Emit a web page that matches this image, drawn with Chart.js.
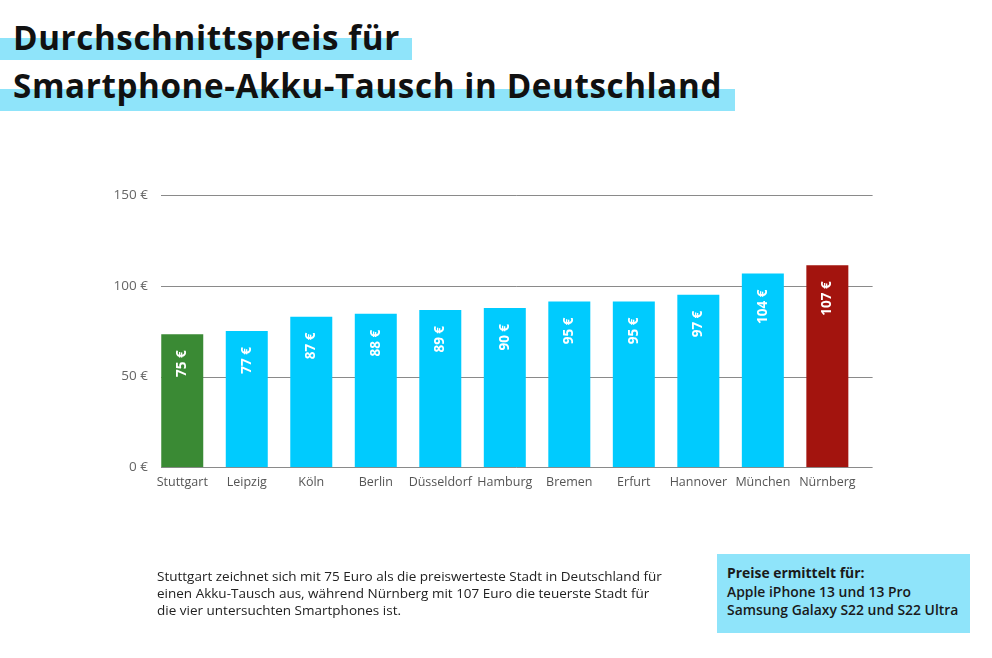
<!DOCTYPE html>
<html>
<head>
<meta charset="utf-8">
<script src="https://cdn.jsdelivr.net/npm/chart.js@4"></script>
<style>
  body { margin: 0; width: 992px; height: 658px; background: #fff; position: relative; overflow: hidden; font-family: "Open Sans", sans-serif; }
  #chart { position: absolute; left: 0; top: 0; }
  .hl { position: absolute; left: 0; background: #8fe4fa; }
  .title { position: absolute; left: 13px; font-weight: 700; font-size: 33.2px; letter-spacing: 0.6px; color: #111; white-space: nowrap; line-height: 1; }
  .note { position: absolute; left: 157px; top: 568px; font-size: 13.5px; line-height: 17px; color: #222; white-space: nowrap; }
  .box { position: absolute; left: 717px; top: 554px; width: 253px; height: 79px; background: #8fe4fa; }
  .box div { position: absolute; left: 10px; top: 10px; font-size: 13.9px; line-height: 18.5px; color: #1a1a1a; font-weight: 600; white-space: nowrap; }
</style>
</head>
<body>
<div class="hl" style="top:38px;width:412px;height:22px"></div>
<div class="hl" style="top:89px;width:735px;height:22px"></div>
<div class="title" style="top:20.5px">Durchschnittspreis für</div>
<div class="title" style="top:69px">Smartphone-Akku-Tausch in Deutschland</div>
<canvas id="chart" width="992" height="658"></canvas>
<div class="note">Stuttgart zeichnet sich mit 75 Euro als die preiswerteste Stadt in Deutschland für<br>einen Akku-Tausch aus, während Nürnberg mit 107 Euro die teuerste Stadt für<br>die vier untersuchten Smartphones ist.</div>
<div class="box"><div><b style="font-weight:700">Preise ermittelt für:</b><br>Apple iPhone 13 und 13 Pro<br>Samsung Galaxy S22 und S22 Ultra</div></div>
<script>
// cities, bar heights as drawn, and the printed price labels
const cities = ["Stuttgart", "Leipzig", "Köln", "Berlin", "Düsseldorf", "Hamburg", "Bremen", "Erfurt", "Hannover", "München", "Nürnberg"];
const barHeights = [73.3, 75.1, 83, 84.6, 86.7, 87.8, 91.3, 91.3, 95.1, 106.7, 111.3];
const priceLabels = [75, 77, 87, 88, 89, 90, 95, 95, 97, 104, 107];
const yTicks = [0, 50, 100, 150];

const blue = "#00cbfe", green = "#3a8a34", red = "#a3140e";
const barColors = cities.map((c, i) => i == 0 ? green : (i == cities.length - 1 ? red : blue));

// y grid lines run a bit right of the bars, like in the original layout
const gridPlugin = {
    id: "gridLines",
    beforeDatasetsDraw: function (chart) {
        const ctx = chart.ctx, area = chart.chartArea, y = chart.scales.y;
        ctx.save();
        ctx.strokeStyle = "#8a8a8a";
        ctx.lineWidth = 1;
        yTicks.forEach(function (t) {
            const py = Math.round(y.getPixelForValue(t)) + 0.5;
            ctx.beginPath();
            ctx.moveTo(area.left + 11, py);
            ctx.lineTo(area.right + 13, py);
            ctx.stroke();
        });
        ctx.restore();
    }
};

const valuePlugin = {
    id: "valueLabels",
    afterDatasetsDraw: function (chart) {
        const ctx = chart.ctx;
        const bars = chart.getDatasetMeta(0).data;
        ctx.save();
        ctx.fillStyle = "#fff";
        ctx.font = "bold 13.5px 'Open Sans'";
        ctx.textAlign = "right";
        ctx.textBaseline = "middle";
        bars.forEach(function (bar, i) {
            ctx.save();
            ctx.translate(bar.x, bar.y + 16);
            ctx.rotate(-Math.PI / 2);
            ctx.fillText(priceLabels[i] + " €", 0, 0);
            ctx.restore();
        });
        ctx.restore();
    }
};

new Chart(document.getElementById("chart"), {
    type: "bar",
    data: {
        labels: cities,
        datasets: [{
            data: barHeights,
            backgroundColor: barColors,
            barPercentage: 0.651,
            categoryPercentage: 1
        }]
    },
    options: {
        responsive: false,
        animation: false,
        layout: { padding: { left: 0, right: 132.4, top: 195, bottom: 160.7 } },
        plugins: { legend: { display: false }, tooltip: { enabled: false } },
        scales: {
            x: {
                grid: { display: false, drawTicks: false },
                border: { display: false },
                ticks: { padding: 8, color: "#555", font: { family: "Open Sans", size: 12.5 }, maxRotation: 0, autoSkip: false },
                afterFit: function (scale) { scale.height = 30; }
            },
            y: {
                min: 0,
                max: 150,
                grid: { display: false, drawTicks: false },
                border: { display: false },
                ticks: {
                    stepSize: 50,
                    padding: 2,
                    color: "#666",
                    font: { family: "Open Sans", size: 13.5 },
                    callback: function (v) { return v + " €"; }
                },
                afterFit: function (scale) { scale.width = 150; }
            }
        }
    },
    plugins: [gridPlugin, valuePlugin]
});
</script>
</body>
</html>
